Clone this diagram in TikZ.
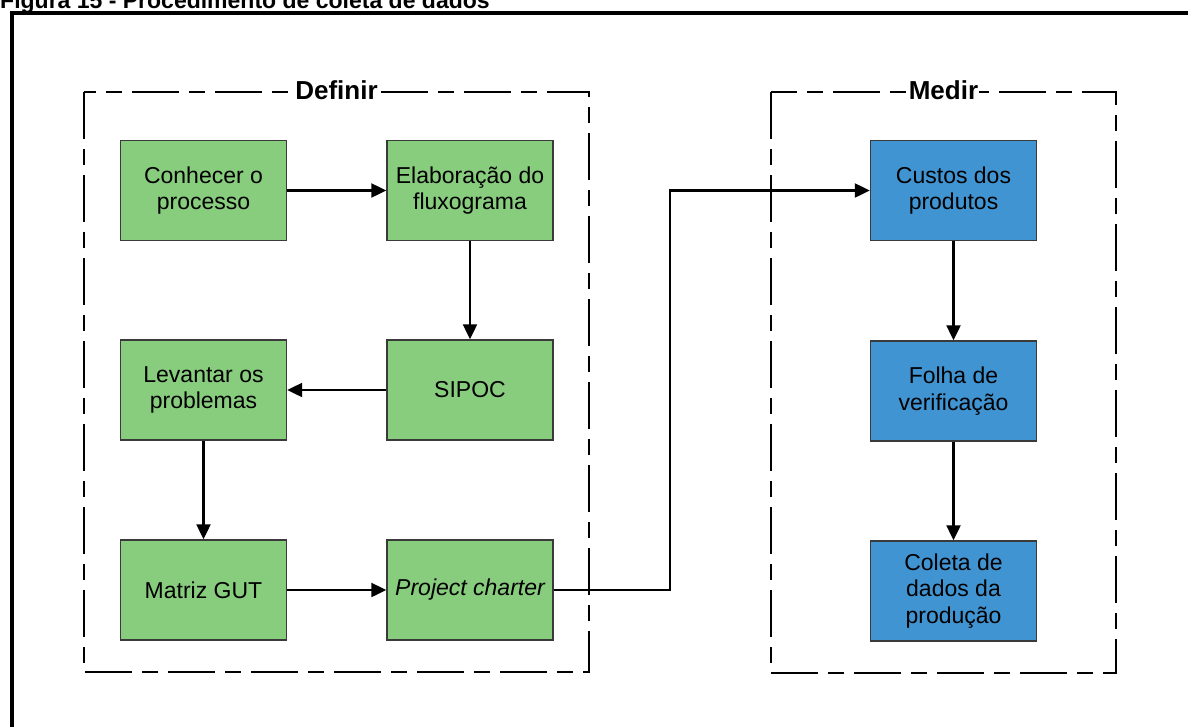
\documentclass[tikz,border=0pt]{standalone}
\usepackage{fontspec}
\setmainfont{Liberation Sans}
\usetikzlibrary{arrows.meta}
\definecolor{stepgreen}{RGB}{136,204,126}
\definecolor{stepblue}{RGB}{65,148,210}
\definecolor{boxline}{RGB}{58,58,58}
\tikzset{
  stepbox/.style={draw=boxline, line width=1.4pt, minimum width=166pt, minimum height=100pt,
    align=center, inner sep=2pt, font=\fontsize{23}{26.5}\selectfont},
  defbox/.style={stepbox, fill=stepgreen},
  medbox/.style={stepbox, fill=stepblue},
  flow/.style={line width=2.2pt, -{Triangle[length=15pt,width=14pt]}},
  phase/.style={line width=2pt, dash pattern=on 47pt off 10pt on 16pt off 10pt},
  phaselabel/.style={fill=white, inner sep=1pt, font=\fontsize{26}{30}\selectfont\bfseries}
}
\begin{document}
\begin{tikzpicture}[x=1pt,y=-1pt]
  \useasboundingbox (0,0) rectangle (1188,726);
  \clip (0,0) rectangle (1188,726);
  % caption line, partly cut by the top edge
  \node[anchor=base west, inner sep=0pt, font=\fontsize{23}{26}\selectfont\bfseries] (caption) at (0,8) {Figura 15 - Procedimento de coleta de dados};
  % outer frame
  \draw[line width=4pt] (12,740) -- (12,13) -- (1200,13);

  % phase frames
  \draw[phase] (84,92) -- (84,672) -- (589,672) -- (589,92) -- cycle;
  \draw[phase] (771,92) -- (771,673) -- (1116,673) -- (1116,92) -- cycle;
  \node[phaselabel] (definir) at (336.5,90) {Definir};
  \node[phaselabel] (medir) at (943.5,90) {Medir};

  % Definir steps
  \node[defbox] (conhecer) at (203.5,190.5) {Conhecer o\\processo};
  \node[defbox] (fluxo) at (470,190.5) {Elaboração do\\fluxograma};
  \node[defbox] (levantar) at (203.5,390) {Levantar os\\problemas};
  \node[defbox] (sipoc) at (470,390) {SIPOC};
  \node[defbox] (gut) at (203.5,590) {Matriz GUT};
  \node[defbox] (charter) at (470,590) {\itshape Project charter};

  % Medir steps
  \node[medbox] (custos) at (953.5,190.5) {Custos dos\\produtos};
  \node[medbox] (folha) at (953.5,391) {Folha de\\verificação};
  \node[medbox] (coleta) at (953.5,591) {Coleta de\\dados da\\produção};

  % connectors
  \draw[flow] (conhecer) -- (fluxo);
  \draw[flow] (fluxo) -- (sipoc);
  \draw[flow] (sipoc) -- (levantar);
  \draw[flow] (levantar) -- (gut);
  \draw[flow] (gut) -- (charter);
  \coordinate (bend) at (670,590);
  \draw[flow] (charter.east) -- (bend) |- (custos.west);
  \draw[flow] (custos) -- (folha);
  \draw[flow] (folha) -- (coleta);
\end{tikzpicture}
\end{document}
